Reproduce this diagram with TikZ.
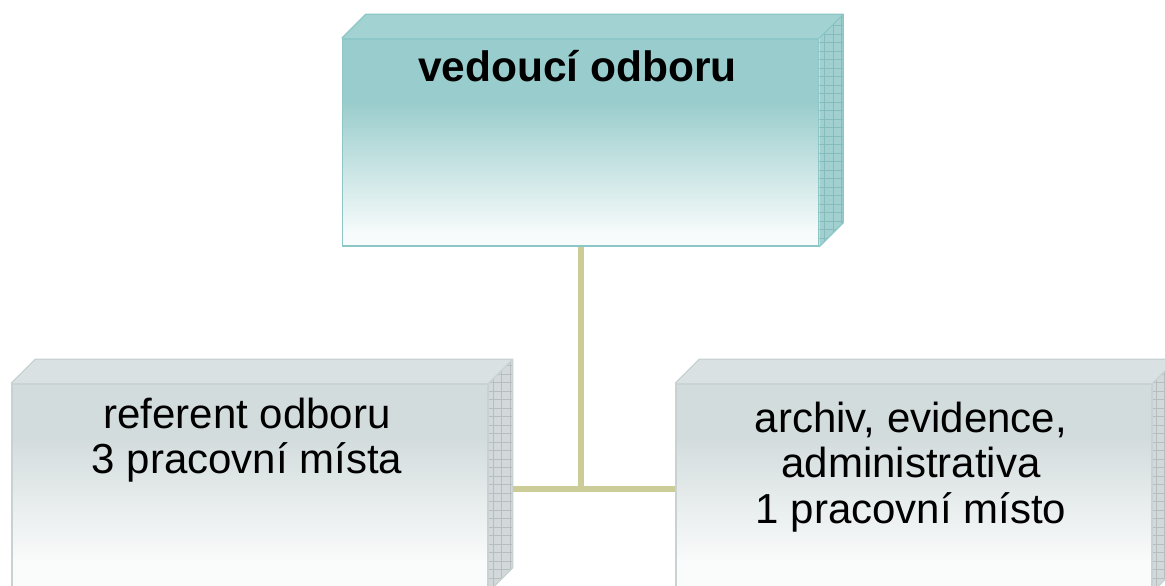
\documentclass[tikz,border=0pt]{standalone}
\usepackage{fontspec}
\setmainfont{Liberation Sans}
\definecolor{tealc}{HTML}{99CCCC}
\definecolor{tealwhite}{HTML}{F7FBFB}
\definecolor{tealtop}{HTML}{A3D2D2}
\definecolor{tealside}{HTML}{A2CFCF}
\definecolor{tealgrid}{HTML}{86BCBC}
\definecolor{tealedge}{HTML}{8CC6C6}
\definecolor{greyc}{HTML}{D3DCDD}
\definecolor{greywhite}{HTML}{FAFBFB}
\definecolor{greytop}{HTML}{D9E1E2}
\definecolor{greyside}{HTML}{D3D9DA}
\definecolor{greygrid}{HTML}{B6BEBF}
\definecolor{greyedge}{HTML}{C8D2D3}
\definecolor{connc}{HTML}{CCCC99}
\pgfdeclareverticalshading{tealfade}{100bp}{color(0bp)=(tealwhite); color(28bp)=(tealwhite); color(60bp)=(tealc); color(100bp)=(tealc)}
\pgfdeclareverticalshading{greyfade}{100bp}{color(0bp)=(greywhite); color(32bp)=(greywhite); color(62bp)=(greyc); color(100bp)=(greyc)}
\newcommand\drawslab[5]{%
  \fill[#2] (#1.north west) -- ++(24,-24) -- ([shift={(24,-24)}]#1.north east) -- (#1.north east) -- cycle;
  \begin{scope}
    \clip (#1.north east) -- ([shift={(24,-24)}]#1.north east) -- ([shift={(24,-24)}]#1.south east) -- (#1.south east) -- cycle;
    \fill[#3] ([shift={(0,5)}]#1.south east) rectangle ([shift={(30,-30)}]#1.north east);
    \draw[#4, line width=0.7bp, step=8.5bp] ([shift={(0,5)}]#1.south east) grid ([shift={(30,-30)}]#1.north east);
  \end{scope}
  \draw[#5, line width=1.2bp, line join=round] (#1.north west) -- ++(24,-24) -- ([shift={(24,-24)}]#1.north east) -- ([shift={(24,-24)}]#1.south east) -- (#1.south east);
  \draw[#5, line width=1.2bp] (#1.north east) -- ([shift={(24,-24)}]#1.north east);
}
\tikzset{
  slab/.style={rectangle, inner sep=0pt, minimum width=476bp, minimum height=207bp, line width=1.5bp},
  txt/.style={font=\fontsize{42bp}{45.5bp}\selectfont, align=center, inner sep=0pt},
  txtb/.style={font=\fontsize{42.5bp}{46bp}\selectfont\bfseries, inner sep=0pt},
  conn/.style={draw=connc, line width=6bp}
}
\begin{document}
\begin{tikzpicture}[x=1bp, y=-1bp]
\useasboundingbox (0,0) rectangle (1165,586);
\clip (0,0) rectangle (1165,586);
\fill[white] (0,0) rectangle (1165,586);
% boxes
\node[slab, draw=tealedge, shading=tealfade] (top) at (580.5,142.5) {};
\node[slab, draw=greyedge, shading=greyfade] (left) at (250,487.5) {};
\node[slab, draw=greyedge, shading=greyfade] (right) at (914,487.5) {};
\drawslab{top}{tealtop}{tealside}{tealgrid}{tealedge}
\drawslab{left}{greytop}{greyside}{greygrid}{greyedge}
\drawslab{right}{greytop}{greyside}{greygrid}{greyedge}
% connectors
\coordinate (junc) at (top.south |- 0,489);
\coordinate (lface) at ([xshift=24bp]left.east);
\draw[conn] (top.south) -- (junc);
\draw[conn] (lface |- junc) -- (right.west |- junc);
% texts
\node[txtb, anchor=base] (t0) at (577.5,82) {vedoucí odboru};
\node[txt, anchor=north] (t1) at (247,388) {\rule{0pt}{40bp}referent odboru\\3 pracovní místa};
\node[txt, anchor=north] (t2) at (911,392) {\rule{0pt}{40bp}archiv, evidence,\\administrativa\\1 pracovní místo};
\end{tikzpicture}
\end{document}
